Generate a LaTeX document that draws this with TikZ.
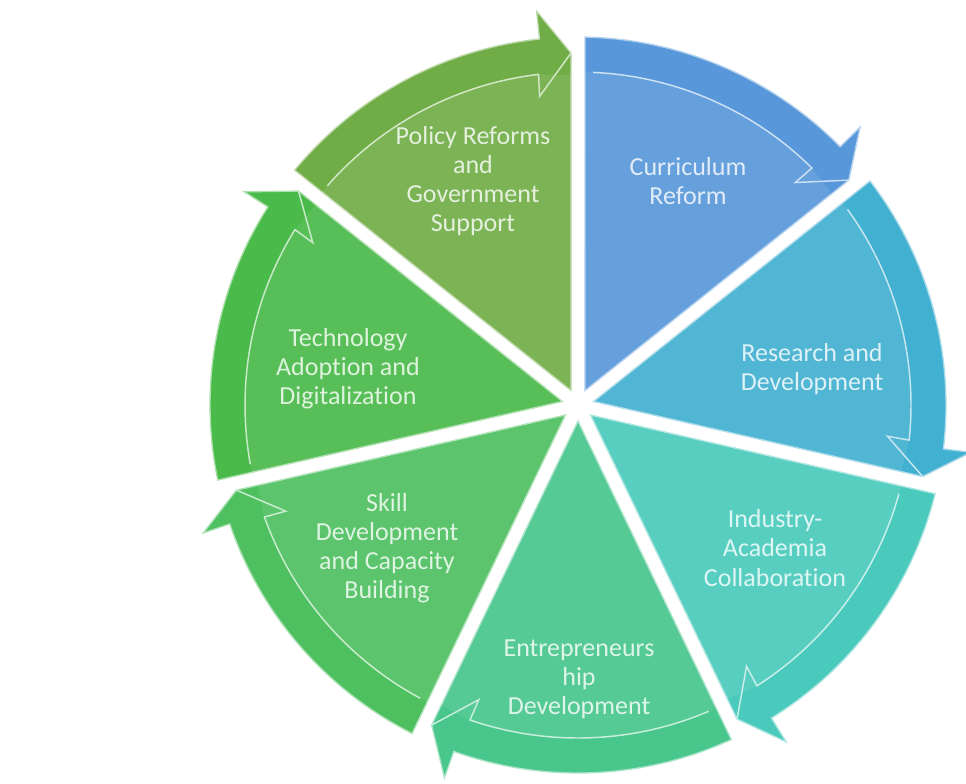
\documentclass[tikz,border=0pt]{standalone}
\usepackage{fontspec}
\setmainfont{Carlito}[Ligatures=NoCommon]
\usetikzlibrary{calc}
\definecolor{cPol}{RGB}{112,173,71}
\definecolor{cCur}{RGB}{88,152,218}
\definecolor{cRes}{RGB}{66,176,208}
\definecolor{cInd}{RGB}{74,202,188}
\definecolor{cEnt}{RGB}{72,198,140}
\definecolor{cSki}{RGB}{78,192,96}
\definecolor{cTec}{RGB}{74,186,74}
\newcommand\drawSeg[2]{%
  \pgfmathsetmacro\segSA{#1-1.09}%
  \pgfmathsetmacro\segEA{#1-51.4286}%
  \pgfmathsetmacro\segMA{#1-25.7143}%
  \pgfmathsetmacro\segNA{\segEA+6}%
  \pgfmathsetmacro\segTA{\segEA+1.14}%
  \pgfmathsetmacro\segHS{#1-2.6}%
  \pgfmathsetmacro\segHE{\segEA+6.8}%
  \pgfmathsetmacro\segBA{\segEA+7.1}%
  \filldraw[fill=#2, draw=white!55!#2, line width=1]
    (\segMA:16.1) -- (\segSA:368)
    arc[start angle=\segSA, end angle=\segNA, radius=368]
    -- (\segNA:396) -- (\segTA:352) -- cycle;
  \fill[white, opacity=0.08]
    (\segMA:16.1) -- (\segSA:333)
    arc[start angle=\segSA, end angle=\segHE, radius=333]
    -- (\segTA:330) -- cycle;
  \draw[white!70!#2, line width=1.1]
    (\segHS:333) arc[start angle=\segHS, end angle=\segHE, radius=333]
    -- (\segBA:311) -- (\segTA:352);
}
\tikzset{
  lbl/.style={align=center, font=\fontsize{19.5}{21.8}\selectfont}
}
\begin{document}
\begin{tikzpicture}[x=0.75pt,y=-0.75pt]
\useasboundingbox (0,0) rectangle (966,783);
\fill[white] (0,0) rectangle (966,783);
\begin{scope}[shift={(578,405)}, y=0.75pt]
  \drawSeg{141.4286}{cPol}
  \drawSeg{90}{cCur}
  \drawSeg{38.5714}{cRes}
  \drawSeg{-12.8571}{cInd}
  \drawSeg{-64.2857}{cEnt}
  \drawSeg{-115.7143}{cSki}
  \drawSeg{-167.1429}{cTec}
\end{scope}
\node[lbl, text=white!82!cPol] (pol) at (473,181) {Policy Reforms\\and\\Government\\Support};
\node[lbl, text=white!82!cCur] (cur) at (688,181) {Curriculum\\Reform};
\node[lbl, text=white!82!cRes] (res) at (812,369) {Research and\\Development};
\node[lbl, text=white!82!cInd] (ind) at (775,548) {Industry-\\Academia\\Collaboration};
\node[lbl, text=white!82!cEnt] (ent) at (579,679) {Entrepreneurs\\hip\\Development};
\node[lbl, text=white!82!cSki] (ski) at (387,548) {Skill\\Development\\and Capacity\\Building};
\node[lbl, text=white!82!cTec] (tec) at (348,369) {Technology\\Adoption and\\Digitalization};
\end{tikzpicture}
\end{document}
